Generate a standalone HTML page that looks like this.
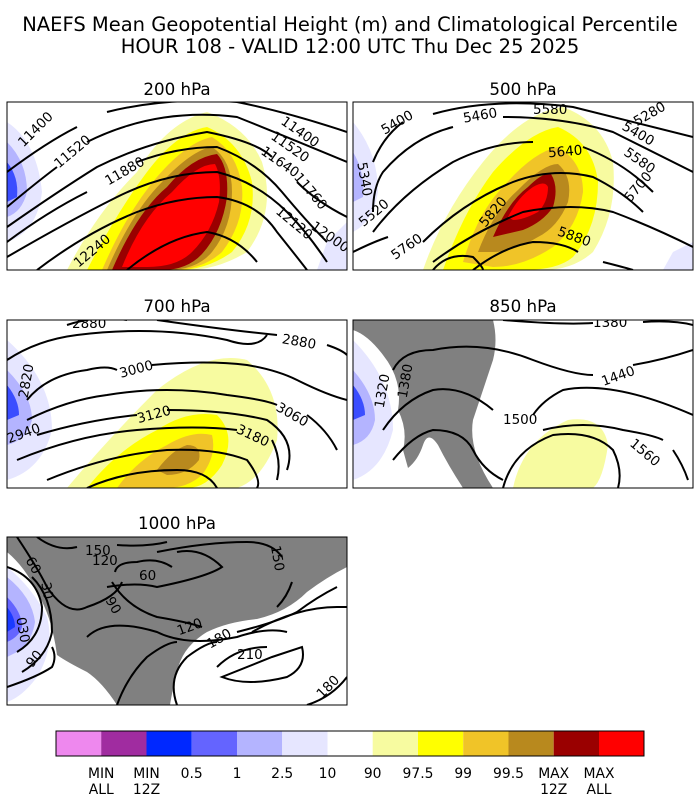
<!DOCTYPE html>
<html><head><meta charset="utf-8"><style>
html,body{margin:0;padding:0;background:#fff;}
svg{display:block;font-family:"DejaVu Sans","Liberation Sans",sans-serif;}
</style></head><body>
<svg width="700" height="800" viewBox="0 0 700 800" xmlns="http://www.w3.org/2000/svg">
<rect width="700" height="800" fill="#fff"/>
<text x="350" y="31" font-size="19.5" text-anchor="middle">NAEFS Mean Geopotential Height (m) and Climatological Percentile</text>
<text x="350" y="53" font-size="19.5" text-anchor="middle">HOUR 108 - VALID 12:00 UTC Thu Dec 25 2025</text>

<text x="177" y="95" font-size="16.7" text-anchor="middle">200 hPa</text>
<text x="523" y="95" font-size="16.7" text-anchor="middle">500 hPa</text>
<text x="177" y="312" font-size="16.7" text-anchor="middle">700 hPa</text>
<text x="523" y="312" font-size="16.7" text-anchor="middle">850 hPa</text>
<text x="177" y="529" font-size="16.7" text-anchor="middle">1000 hPa</text>

<defs>
<clipPath id="pc"><rect x="0" y="0" width="340" height="168"/></clipPath>
</defs>

<!-- 200 hPa -->
<g transform="translate(7,102)">
<g clip-path="url(#pc)">
<path d="M0,20 Q30,40 35,90 Q30,130 0,140Z" fill="#e6e6ff"/>
<path d="M0,40 Q20,60 20,90 Q15,110 0,115Z" fill="#b4b4ff"/>
<path d="M0,60 Q12,75 10,95 L0,100Z" fill="#3a4dff"/>
<path d="M320,140 L340,120 L340,168 L310,168Z" fill="#e6e6ff"/>
<path d="M60,168 Q90,110 130,70 Q160,20 200,10 Q240,25 255,60 Q270,110 240,150 Q210,168 180,168Z" fill="#f7fba0"/>
<path d="M80,168 Q110,110 140,70 Q170,30 200,25 Q235,40 245,80 Q250,120 225,150 Q200,168 170,168Z" fill="#ffff00"/>
<path d="M95,168 Q120,110 150,75 Q180,40 205,35 Q230,50 235,85 Q238,120 215,150 Q195,168 165,168Z" fill="#f0c428"/>
<path d="M100,168 Q125,110 155,80 Q185,48 205,45 Q225,58 225,90 Q225,125 205,150 Q190,168 160,168Z" fill="#b8891e"/>
<path d="M105,168 Q130,110 160,85 Q185,55 210,52 Q222,65 220,95 Q215,130 195,152 Q180,168 155,168Z" fill="#9a0000"/>
<path d="M115,165 Q135,115 165,90 Q190,62 208,62 Q215,75 212,100 Q205,130 185,150 Q170,165 140,165Z" fill="#ff0000"/>
<g fill="none" stroke="#000" stroke-width="2">
<path d="M0,70 Q40,40 70,25 M100,10 Q160,-5 230,0 Q280,10 340,30"/>
<path d="M0,105 Q30,80 50,65 M80,40 Q150,5 230,15 Q280,35 340,60"/>
<path d="M0,125 Q50,90 90,65 Q140,40 200,30 Q250,40 265,55 M290,80 Q310,100 340,115"/>
<path d="M0,140 Q40,110 80,90 M130,60 Q170,45 210,45 Q250,60 275,90 Q300,120 320,140"/>
<path d="M0,155 Q60,120 110,95 Q160,70 210,70 Q250,80 280,110 Q300,130 320,160"/>
<path d="M30,168 Q80,130 130,110 Q170,95 210,95 Q250,100 270,130 Q290,155 300,168"/>
<path d="M120,168 Q160,135 200,130 Q230,135 250,160"/>
</g>
<g font-size="13.5" fill="#000">
<text x="10" y="40" transform="rotate(-45 20 35)">11400</text>
<text x="45" y="62" transform="rotate(-40 55 55)">11520</text>
<text x="95" y="80" transform="rotate(-30 105 70)">11880</text>
<text x="62" y="160" transform="rotate(-40 75 150)">12240</text>
<text x="275" y="25" transform="rotate(35 280 20)">11400</text>
<text x="265" y="40" transform="rotate(35 270 35)">11520</text>
<text x="255" y="55" transform="rotate(35 260 50)">11640</text>
<text x="290" y="82" transform="rotate(50 295 75)">11760</text>
<text x="270" y="115" transform="rotate(40 275 110)">12120</text>
<text x="305" y="130" transform="rotate(35 310 125)">12000</text>
</g>
</g>
<rect x="0" y="0" width="340" height="168" fill="none" stroke="#000"/>
</g>

<!-- 500 hPa -->
<g transform="translate(353,102)">
<g clip-path="url(#pc)">
<path d="M0,20 Q25,50 25,90 Q20,120 0,130Z" fill="#e6e6ff"/>
<path d="M0,50 Q12,70 10,95 L0,100Z" fill="#b4b4ff"/>
<path d="M320,150 L340,140 L340,168 L310,168Z" fill="#e6e6ff"/>
<path d="M70,168 Q90,110 130,60 Q170,10 210,5 Q250,20 260,60 Q265,110 240,150 Q220,168 190,168Z" fill="#f7fba0"/>
<path d="M90,168 Q110,110 140,70 Q175,30 205,25 Q240,40 245,80 Q245,125 220,155 Q205,168 170,168Z" fill="#ffff00"/>
<path d="M110,160 Q125,110 150,85 Q180,50 205,45 Q230,60 230,90 Q225,125 200,145 Q170,165 140,165Z" fill="#f0c428"/>
<path d="M125,150 Q140,110 165,88 Q190,62 205,62 Q220,75 215,100 Q205,125 185,135 Q160,150 140,150Z" fill="#b8891e"/>
<path d="M140,135 Q155,100 175,85 Q190,70 198,72 Q206,85 200,105 Q190,120 170,128Z" fill="#9a0000"/>
<path d="M155,115 Q165,95 180,85 Q192,78 195,85 Q195,100 185,110 Q170,118 160,118Z" fill="#ff0000"/>
<g fill="none" stroke="#000" stroke-width="2">
<path d="M20,60 Q30,35 50,20 M80,12 Q140,-5 220,5 Q280,20 340,35"/>
<path d="M20,110 Q20,85 30,70 Q60,35 100,25 M150,15 Q210,15 260,30 Q300,50 340,70"/>
<path d="M20,130 Q50,90 100,60 Q140,40 180,40 M230,45 Q270,60 300,90"/>
<path d="M70,140 Q110,100 160,80 Q200,65 240,75 Q270,90 290,110"/>
<path d="M0,150 Q20,140 35,135 M80,160 Q120,130 170,110 Q220,100 260,110 Q300,125 340,145"/>
<path d="M120,168 Q150,145 180,140 Q210,140 225,150 M250,160 Q270,165 280,168"/>
<path d="M80,168 Q95,150 120,155 Q130,165 130,168"/>
</g>
<g font-size="13.5" fill="#000">
<text x="28" y="30" transform="rotate(-30 35 25)">5400</text>
<text x="110" y="20" transform="rotate(-10 115 15)">5460</text>
<text x="180" y="12">5580</text>
<text x="195" y="55" transform="rotate(-5 200 50)">5640</text>
<text x="5" y="70" transform="rotate(80 10 65)">5340</text>
<text x="5" y="120" transform="rotate(-40 15 115)">5520</text>
<text x="38" y="155" transform="rotate(-35 45 150)">5760</text>
<text x="125" y="120" transform="rotate(-50 135 115)">5820</text>
<text x="205" y="135" transform="rotate(20 210 130)">5880</text>
<text x="280" y="20" transform="rotate(-30 290 15)">5280</text>
<text x="270" y="30" transform="rotate(30 275 25)">5400</text>
<text x="272" y="58" transform="rotate(35 280 52)">5580</text>
<text x="270" y="95" transform="rotate(-50 280 90)">5700</text>
</g>
</g>
<rect x="0" y="0" width="340" height="168" fill="none" stroke="#000"/>
</g>

<!-- 700 hPa -->
<g transform="translate(7,320)">
<g clip-path="url(#pc)">
<path d="M0,20 Q45,60 45,110 Q35,150 0,160Z" fill="#e6e6ff"/>
<path d="M0,50 Q25,75 25,100 Q20,120 0,125Z" fill="#b4b4ff"/>
<path d="M0,65 Q12,80 12,95 L0,100Z" fill="#3a4dff"/>
<path d="M60,168 Q100,120 150,70 Q200,30 240,40 Q275,70 270,120 Q255,160 230,168Z" fill="#f7fba0"/>
<path d="M80,168 Q110,130 150,110 Q180,90 210,95 Q230,115 215,145 Q200,168 180,168Z" fill="#ffff00"/>
<path d="M110,168 Q130,140 160,125 Q185,110 205,115 Q210,135 195,155 Q180,168 160,168Z" fill="#f0c428"/>
<path d="M150,150 Q165,130 180,125 Q195,125 192,140 Q180,155 160,155Z" fill="#b8891e"/>
<g fill="none" stroke="#000" stroke-width="2">
<path d="M60,5 Q90,-5 120,0 M150,0 Q220,10 270,15"/>
<path d="M0,40 Q30,20 70,15 Q150,5 220,20 Q250,30 260,15 M320,25 Q335,30 340,35"/>
<path d="M20,80 Q40,55 80,50 Q100,45 110,50 M145,45 Q200,40 240,45 Q270,50 290,60 Q320,75 340,80"/>
<path d="M20,100 Q60,80 100,75 Q160,65 220,75 Q260,80 270,85 M300,95 Q320,110 330,130"/>
<path d="M30,115 Q80,100 130,95 M160,90 Q220,90 260,100 Q290,120 280,150"/>
<path d="M10,140 Q70,115 130,110 Q190,105 230,110 M265,120 Q275,140 270,160"/>
<path d="M40,160 Q100,135 160,130 Q210,128 240,140 Q255,160 250,168"/>
<path d="M80,168 Q120,150 170,150 Q200,150 210,168"/>
</g>
<g font-size="13.5" fill="#000">
<text x="65" y="8">2880</text>
<text x="275" y="24" transform="rotate(10 280 20)">2880</text>
<text x="112" y="56" transform="rotate(-15 120 50)">3000</text>
<text x="270" y="93" transform="rotate(30 275 88)">3060</text>
<text x="130" y="102" transform="rotate(-15 135 97)">3120</text>
<text x="230" y="115" transform="rotate(25 235 110)">3180</text>
<text x="5" y="80" transform="rotate(-80 12 70)">2820</text>
<text x="0" y="122" transform="rotate(-20 5 117)">2940</text>
</g>
</g>
<rect x="0" y="0" width="340" height="168" fill="none" stroke="#000"/>
</g>

<!-- 850 hPa -->
<g transform="translate(353,320)">
<g clip-path="url(#pc)">
<path d="M0,20 Q40,60 40,110 Q30,150 0,160Z" fill="#e6e6ff"/>
<path d="M0,50 Q22,75 22,100 Q18,120 0,125Z" fill="#b4b4ff"/>
<path d="M0,65 Q12,80 12,95 L0,100Z" fill="#3a4dff"/>
<path d="M160,168 Q170,120 215,100 Q250,95 255,125 Q250,160 240,168Z" fill="#f7fba0"/>
<path d="M0,0 L140,0 Q145,20 140,40 Q130,70 120,100 Q115,130 140,168 L110,168 Q95,145 85,125 Q75,110 70,125 Q65,140 55,148 L50,130 Q55,110 45,90 Q50,60 30,35 Q15,15 0,10Z" fill="#808080"/>
<g fill="none" stroke="#000" stroke-width="2">
<path d="M150,0 Q210,5 240,3 M290,2 Q320,0 340,5"/>
<path d="M40,50 Q50,30 80,30 Q130,20 180,40 Q220,55 240,55 M280,45 Q310,40 340,30"/>
<path d="M30,110 Q50,80 80,70 Q110,65 140,90 M180,95 Q190,80 210,70 Q260,60 340,95"/>
<path d="M40,140 Q60,115 80,110 Q110,110 120,130 Q130,150 150,160 M190,110 Q230,100 270,110 Q300,115 310,120 M320,130 Q330,145 335,160"/>
<path d="M150,168 Q160,130 200,115 Q240,110 260,130 Q270,150 265,168"/>
</g>
<g font-size="13.5" fill="#000">
<text x="240" y="7">1380</text>
<text x="248" y="64" transform="rotate(-20 255 58)">1440</text>
<text x="150" y="104">1500</text>
<text x="280" y="130" transform="rotate(40 285 122)">1560</text>
<text x="15" y="90" transform="rotate(-80 22 80)">1320</text>
<text x="38" y="80" transform="rotate(-80 45 70)">1380</text>
</g>
</g>
<rect x="0" y="0" width="340" height="168" fill="none" stroke="#000"/>
</g>

<!-- 1000 hPa -->
<g transform="translate(7,537)">
<g clip-path="url(#pc)">
<path d="M0,0 L340,0 L340,30 Q320,40 300,55 Q280,75 250,82 Q220,85 200,95 Q175,110 170,135 Q165,155 163,168 L110,168 Q95,145 80,135 Q60,125 50,118 Q45,80 30,55 Q18,30 0,15Z" fill="#808080"/>
<path d="M0,30 Q25,50 40,80 Q48,110 30,140 Q15,160 0,165Z" fill="#e6e6ff"/>
<path d="M0,40 Q25,60 28,85 Q25,105 10,115 L0,120Z" fill="#b4b4ff"/>
<path d="M0,60 Q15,75 15,90 Q12,100 0,105Z" fill="#6464ff"/>
<path d="M0,70 Q8,80 8,90 L0,95Z" fill="#1a3aff"/>
<g fill="none" stroke="#000" stroke-width="2">
<path d="M30,0 Q50,15 70,10 M110,8 Q140,10 160,5"/>
<path d="M10,0 Q30,30 40,50 Q60,80 80,70 Q110,60 115,45 M150,15 Q200,5 240,5 Q265,5 275,20 M285,45 Q280,60 270,70"/>
<path d="M0,30 Q30,40 35,70 Q35,100 10,115 M15,135 Q40,120 45,95 Q45,60 25,40"/>
<path d="M0,150 Q30,140 45,130 Q50,120 45,110"/>
<path d="M108,35 Q110,25 130,25 Q150,20 165,30 M100,50 Q130,45 150,50 Q200,40 215,30 Q195,10 170,15"/>
<path d="M105,45 Q120,70 150,80 Q180,85 195,90 M230,95 Q270,85 290,75 Q310,60 330,50"/>
<path d="M80,100 Q100,80 150,95 Q180,110 230,100 Q260,90 280,95 M110,168 Q120,140 140,120 Q160,105 170,105"/>
<path d="M170,168 Q160,140 180,120 Q200,105 210,105 M245,95 Q290,70 330,70 L340,70"/>
<path d="M210,130 Q230,110 260,110 M265,120 Q280,115 295,110 Q300,130 280,140 Q240,150 215,140Z"/>
<path d="M300,168 Q325,160 340,140"/>
</g>
<g font-size="13.5" fill="#000">
<text x="78" y="18">150</text>
<text x="85" y="28">120</text>
<text x="132" y="43">60</text>
<text x="100" y="70" transform="rotate(60 105 65)">90</text>
<text x="170" y="97" transform="rotate(-20 175 92)">120</text>
<text x="200" y="110" transform="rotate(-30 205 105)">180</text>
<text x="230" y="122">210</text>
<text x="265" y="22" transform="rotate(80 272 15)">150</text>
<text x="310" y="160" transform="rotate(-45 315 155)">180</text>
<text x="20" y="30" transform="rotate(60 25 25)">60</text>
<text x="35" y="55" transform="rotate(80 40 50)">30</text>
<text x="10" y="90" transform="rotate(80 15 85)">030</text>
<text x="18" y="128" transform="rotate(-50 25 122)">90</text>
</g>
</g>
<rect x="0" y="0" width="340" height="168" fill="none" stroke="#000"/>
</g>

<!-- colorbar -->
<g transform="translate(56,731)">
<rect x="0" y="0" width="45.2" height="25" fill="#ee88ee"/>
<rect x="45.2" y="0" width="45.3" height="25" fill="#a02ca0"/>
<rect x="90.5" y="0" width="45.2" height="25" fill="#0028ff"/>
<rect x="135.7" y="0" width="45.3" height="25" fill="#6464ff"/>
<rect x="181" y="0" width="45.2" height="25" fill="#b4b4ff"/>
<rect x="226.2" y="0" width="45.3" height="25" fill="#e6e6ff"/>
<rect x="271.5" y="0" width="45.2" height="25" fill="#ffffff"/>
<rect x="316.7" y="0" width="45.3" height="25" fill="#f7fba0"/>
<rect x="362" y="0" width="45.2" height="25" fill="#ffff00"/>
<rect x="407.2" y="0" width="45.3" height="25" fill="#f0c428"/>
<rect x="452.5" y="0" width="45.2" height="25" fill="#b8891e"/>
<rect x="497.7" y="0" width="45.3" height="25" fill="#9a0000"/>
<rect x="543" y="0" width="45" height="25" fill="#ff0000"/>
<rect x="0" y="0" width="588" height="25" fill="none" stroke="#000"/>
<g font-size="13.9" text-anchor="middle" fill="#000">
<text x="45.2" y="47">MIN</text><text x="45.2" y="63">ALL</text>
<text x="90.5" y="47">MIN</text><text x="90.5" y="63">12Z</text>
<text x="135.7" y="47">0.5</text>
<text x="181" y="47">1</text>
<text x="226.2" y="47">2.5</text>
<text x="271.5" y="47">10</text>
<text x="316.7" y="47">90</text>
<text x="362" y="47">97.5</text>
<text x="407.2" y="47">99</text>
<text x="452.5" y="47">99.5</text>
<text x="497.7" y="47">MAX</text><text x="497.7" y="63">12Z</text>
<text x="543" y="47">MAX</text><text x="543" y="63">ALL</text>
</g>
</g>
</svg>
</body></html>
